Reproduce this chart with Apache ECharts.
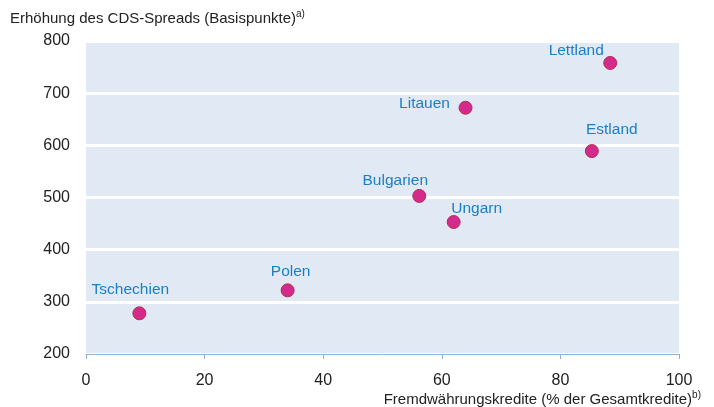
<!DOCTYPE html>
<html><head><meta charset="utf-8">
<script src="https://cdn.jsdelivr.net/npm/echarts@6/dist/echarts.min.js"></script>
<style>html,body{margin:0;padding:0;background:#fff}#c{width:714px;height:407px}</style>
</head><body><div id="c"></div>
<script>
const countries = ['Tschechien','Polen','Bulgarien','Ungarn','Litauen','Estland','Lettland'];
const fxLoans = [9, 34, 56.2, 62, 64, 85.3, 88.4];
const cdsIncrease = [278, 322, 503, 453, 672, 589, 758];
const xTicks = [0, 20, 40, 60, 80, 100];
const yTicks = [200, 300, 400, 500, 600, 700, 800];

const labelOffsets = {
  'Tschechien':[-9,-24], 'Polen':[3,-19], 'Bulgarien':[-24,-15], 'Ungarn':[23,-13],
  'Litauen':[-41,-4], 'Estland':[20,-21], 'Lettland':[-34,-12]
};

const data = countries.map((c,i)=>({
  name:c, value:[fxLoans[i], cdsIncrease[i]],
  label:{offset:labelOffsets[c]}
}));

const chart = echarts.init(document.getElementById('c'));
const font = 'Liberation Sans, Arial, sans-serif';
chart.setOption({
  animation:false,
  grid:{left:86,right:35,top:41,bottom:53,show:true,backgroundColor:'#e1e9f4',borderWidth:0},
  xAxis:{type:'value',min:xTicks[0],max:xTicks[xTicks.length-1],interval:20,
    axisLine:{show:true,lineStyle:{color:'#8fb0d8',width:1}},
    axisTick:{show:true,length:5,lineStyle:{color:'#8fb0d8'}},
    axisLabel:{color:'#222',fontSize:16,fontFamily:font,margin:19},
    splitLine:{show:false}},
  yAxis:{type:'value',min:yTicks[0],max:yTicks[yTicks.length-1],interval:100,
    axisLine:{show:false},axisTick:{show:false},
    axisLabel:{color:'#222',fontSize:16,fontFamily:font,margin:16},
    splitLine:{show:true,lineStyle:{color:'#ffffff',width:3}}},
  series:[{type:'scatter',data:data,symbolSize:13,
    itemStyle:{color:'#d42a8c',borderColor:'#b4304c',borderWidth:1,opacity:1},
    label:{show:true,position:'inside',formatter:'{b}',color:'#1a7fc6',fontSize:15.5,fontFamily:font,align:'center',verticalAlign:'middle'}}],
  graphic:[
    {type:'text',left:10,top:9,style:{
      text:'Erhöhung des CDS-Spreads (Basispunkte){s|a)}',
      rich:{s:{fontSize:10,padding:[0,0,9,0],fontFamily:font,fill:'#222'}},
      fontSize:15,fontFamily:font,fill:'#222'}},
    {type:'text',right:13,top:390,style:{
      text:'Fremdwährungskredite (% der Gesamtkredite){s|b)}',
      rich:{s:{fontSize:10,padding:[0,0,9,0],fontFamily:font,fill:'#222'}},
      fontSize:15,fontFamily:font,fill:'#222'}}
  ]
});
</script></body></html>
